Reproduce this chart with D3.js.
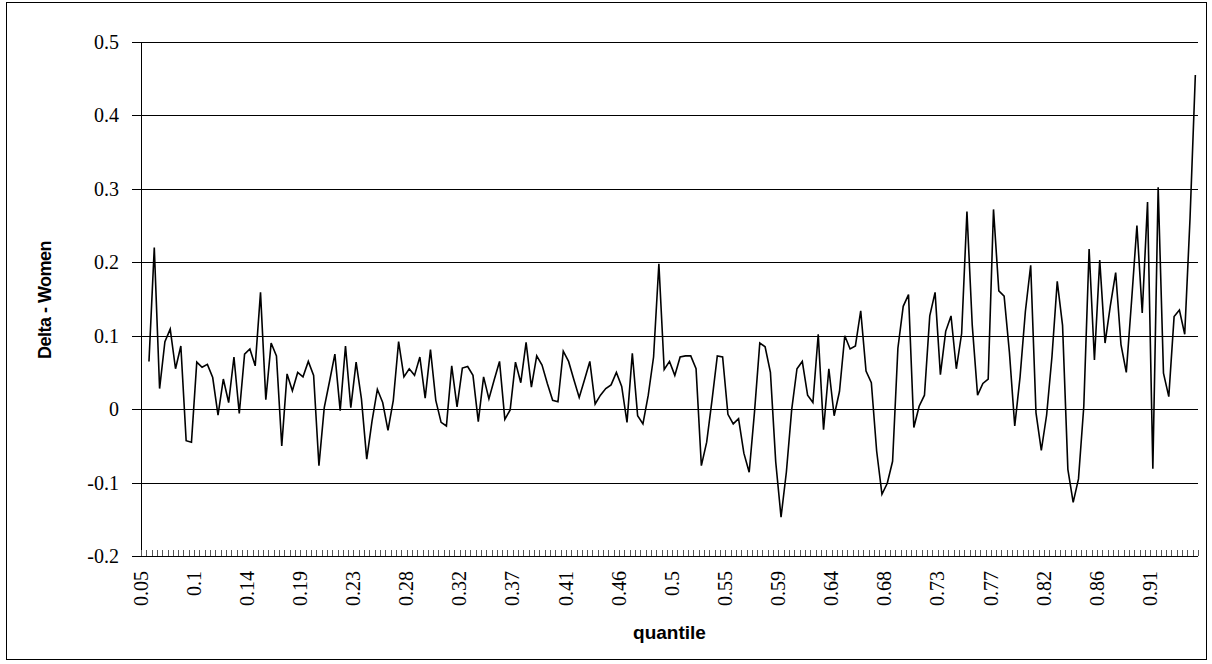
<!DOCTYPE html>
<html><head><meta charset="utf-8">
<script src="https://cdn.jsdelivr.net/npm/d3@7/dist/d3.min.js"></script>
<style>body{margin:0;background:#fff} svg{display:block}
.serif{font-family:'Liberation Serif','Times New Roman',Tinos,'DejaVu Serif',serif}
.sans{font-family:'Liberation Sans',Arial,Arimo,sans-serif}
</style>
</head><body>
<svg id="c" width="1212" height="664"></svg>
<script>
// x tick labels (every 10th category)
const tickLabels = ["0.05","0.1","0.14","0.19","0.23","0.28","0.32","0.37","0.41","0.46",
  "0.5","0.55","0.59","0.64","0.68","0.73","0.77","0.82","0.86","0.91"];
const yTicks = [-0.2,-0.1,0,0.1,0.2,0.3,0.4,0.5];
const yTickLabels = ["-0.2","-0.1","0","0.1","0.2","0.3","0.4","0.5"];
// Delta - Women by quantile (first category has no value)
const values = [null,
 0.065,0.22,0.028,0.092,0.109,0.055,0.086,-0.043,-0.045,0.064,
 0.057,0.061,0.043,-0.008,0.041,0.009,0.071,-0.006,0.075,0.082,
 0.059,0.159,0.013,0.09,0.0725,-0.05,0.048,0.025,0.05,0.044,
 0.065,0.046,-0.077,0.002,0.038,0.075,-0.002,0.086,0.002,0.064,
 0.014,-0.068,-0.016,0.027,0.009,-0.029,0.012,0.092,0.044,0.055,
 0.046,0.071,0.015,0.081,0.012,-0.018,-0.023,0.059,0.003,0.056,
 0.058,0.046,-0.017,0.044,0.014,0.04,0.065,-0.014,-0.001,0.064,
 0.036,0.091,0.03,0.0725,0.06,0.035,0.012,0.01,0.079,0.065,
 0.04,0.016,0.04,0.065,0.007,0.019,0.028,0.033,0.05,0.031,
 -0.018,0.076,-0.009,-0.02,0.019,0.071,0.198,0.054,0.065,0.046,
 0.071,0.0725,0.0725,0.055,-0.077,-0.045,0.012,0.0725,0.071,-0.007,
 -0.02,-0.013,-0.06,-0.086,-0.004,0.09,0.085,0.05,-0.072,-0.147,
 -0.086,-0.001,0.055,0.065,0.019,0.009,0.102,-0.028,0.055,-0.009,
 0.024,0.1,0.082,0.086,0.134,0.052,0.036,-0.057,-0.116,-0.101,
 -0.071,0.083,0.14,0.156,-0.025,0.004,0.019,0.127,0.159,0.047,
 0.106,0.127,0.055,0.103,0.269,0.114,0.019,0.035,0.041,0.272,
 0.161,0.154,0.077,-0.023,0.044,0.133,0.196,-0.005,-0.056,-0.008,
 0.071,0.174,0.114,-0.082,-0.127,-0.095,0.004,0.218,0.067,0.203,
 0.09,0.141,0.186,0.088,0.05,0.148,0.25,0.131,0.282,-0.081,
 0.302,0.049,0.017,0.126,0.135,0.102,0.26,0.455];

const L = 141, R = 1198, T = 42, B = 556;
const svg = d3.select("#c");
svg.append("rect").attr("x",6.5).attr("y",2.5).attr("width",1200).attr("height",657)
  .attr("fill","#fff").attr("stroke","#000").attr("stroke-width",1);

const x = d3.scaleBand().domain(d3.range(values.length)).range([L, R]).paddingInner(0).paddingOuter(0);
const bw = x.bandwidth();
const y = d3.scaleLinear().domain([-0.2, 0.5]).range([B, T]);

// gridlines + y ticks
const g = svg.append("g");
g.selectAll("line.grid").data(yTicks.filter(t => t > -0.2)).enter().append("line")
  .attr("x1", L - 9).attr("x2", R).attr("y1", d => Math.round(y(d)) + 0.5).attr("y2", d => Math.round(y(d)) + 0.5)
  .attr("stroke", "#000").attr("stroke-width", 1);
g.append("line").attr("x1", L - 9).attr("x2", L).attr("y1", Math.round(y(-0.2)) + 0.5).attr("y2", Math.round(y(-0.2)) + 0.5)
  .attr("stroke", "#000");
g.selectAll("text.yl").data(yTicks).enter().append("text").attr("class","serif")
  .attr("x", L - 22).attr("y", d => y(d)).attr("dy", "0.35em")
  .attr("text-anchor", "end").attr("font-size", 20).text((d, i) => yTickLabels[i]);

// axes lines
g.append("line").attr("x1", L + 0.5).attr("x2", L + 0.5).attr("y1", T).attr("y2", B + 0.5).attr("stroke", "#000");
g.append("line").attr("x1", L).attr("x2", R).attr("y1", B + 0.5).attr("y2", B + 0.5).attr("stroke", "#000");

// x category ticks (inside)
const tickPos = d3.range(values.length + 1).map(k => k < values.length ? x(k) : R);
g.selectAll("line.xt").data(tickPos).enter().append("line")
  .attr("x1", d => Math.round(d) + 0.5).attr("x2", d => Math.round(d) + 0.5)
  .attr("y1", B - 6).attr("y2", B).attr("stroke", "#555").attr("stroke-width", 1);

// x labels
g.selectAll("text.xl").data(tickLabels).enter().append("text").attr("class","serif")
  .attr("transform", (d, i) => `translate(${x(i * 10) + bw / 2 - 3},${B + 15}) rotate(-90)`)
  .attr("dy", "0.35em").attr("text-anchor", "end").attr("font-size", 20)
  .text(d => d);

// line
const line = d3.line().defined(d => d != null)
  .x((d, i) => x(i) + bw / 2).y(d => y(d));
svg.append("path").datum(values).attr("d", line).attr("fill", "none")
  .attr("stroke", "#000").attr("stroke-width", 1.6).attr("stroke-linejoin", "miter");

// axis titles
svg.append("text").attr("class","sans").attr("x", (L + R) / 2).attr("y", 639).attr("text-anchor", "middle")
  .attr("font-weight", "bold").attr("font-size", 19).text("quantile");
svg.append("text").attr("class","sans").attr("transform", `translate(51,300) rotate(-90)`).attr("text-anchor", "middle")
  .attr("font-weight", "bold").attr("font-size", 18)
  .attr("letter-spacing", "-0.5").text("Delta - Women");
</script>
</body></html>
